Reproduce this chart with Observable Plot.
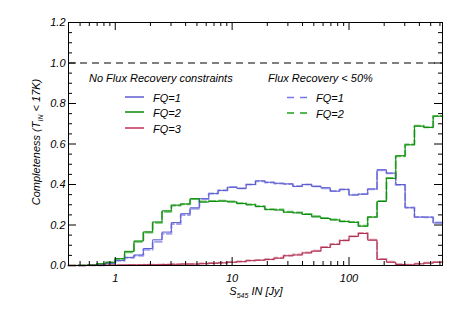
<!DOCTYPE html>
<html><head><meta charset="utf-8">
<script src="https://cdn.jsdelivr.net/npm/d3@7"></script>
<script src="https://cdn.jsdelivr.net/npm/@observablehq/plot@0.6"></script>
<style>
body{margin:0;background:#fff}
svg{font-family:"Liberation Sans",Arial,sans-serif;font-style:italic}
</style>
</head><body><div id="chart"></div>
<script>
// log10 bin grid: 40 bins of 0.08 dex starting at log10 S = -0.4
const binStartLog = -0.4;
const binWidthLog = 0.08;

// No flux recovery constraints
const fq1 = [0,0,0.002,0.004,0.011,0.025,0.040,0.052,0.084,0.127,
             0.165,0.212,0.256,0.285,0.330,0.355,0.370,0.386,0.380,0.400,
             0.418,0.411,0.406,0.403,0.390,0.400,0.390,0.384,0.367,0.376,
             0.348,0.352,0.378,0.473,0.456,0.400,0.285,0.239,0.239,0.210];
const fq2 = [0,0.001,0.003,0.008,0.016,0.034,0.070,0.121,0.166,0.215,
             0.270,0.298,0.304,0.330,0.313,0.316,0.318,0.314,0.306,0.300,
             0.291,0.276,0.274,0.263,0.260,0.252,0.240,0.232,0.225,0.217,
             0.213,0.194,0.239,0.316,0.430,0.542,0.596,0.688,0.682,0.737];
const fq3 = [0,0,0.001,0.001,0.002,0.002,0.003,0.003,0.004,0.004,
             0.005,0.006,0.007,0.007,0.009,0.011,0.013,0.016,0.019,0.024,
             0.026,0.030,0.036,0.048,0.052,0.062,0.071,0.089,0.104,0.123,
             0.143,0.158,0.125,0.030,0.016,0.005,0.003,0.008,0.012,0.016];
// Flux recovery < 50%
const fq1Rec = [0,0,0.002,0.004,0.010,0.024,0.038,0.048,0.078,0.117,
                0.157,0.205,0.250,0.280,0.328,0.356,0.372,0.388,0.382,0.400,
                0.416,0.410,0.405,0.402,0.392,0.400,0.391,0.382,0.368,0.375,
                0.350,0.353,0.376,0.470,0.455,0.398,0.287,0.240,0.238,0.212];
const fq2Rec = [0,0.001,0.003,0.008,0.015,0.031,0.066,0.117,0.163,0.211,
                0.266,0.296,0.303,0.329,0.316,0.318,0.320,0.316,0.308,0.301,
                0.292,0.278,0.276,0.265,0.262,0.254,0.243,0.234,0.227,0.219,
                0.215,0.196,0.240,0.318,0.432,0.540,0.598,0.690,0.683,0.738];
const fq3Rec = [0,0,0.001,0.001,0.002,0.002,0.003,0.003,0.004,0.004,
                0.005,0.006,0.007,0.008,0.010,0.012,0.014,0.017,0.020,0.025,
                0.027,0.031,0.038,0.050,0.054,0.064,0.073,0.091,0.106,0.125,
                0.145,0.160,0.127,0.032,0.018,0.006,0.004,0.009,0.013,0.017];

const xTicks = [1, 10, 100];
const xMinor = [0.5,0.6,0.7,0.8,0.9,2,3,4,5,6,7,8,9,20,30,40,50,60,70,80,90,200,300,400,500,600];
const yTicks = [0, 0.2, 0.4, 0.6, 0.8, 1.0, 1.2];
const yMinor = [0.05,0.1,0.15,0.25,0.3,0.35,0.45,0.5,0.55,0.65,0.7,0.75,0.85,0.9,0.95,1.05,1.1,1.15];

const seriesDefs = [
  {key:"fq1Rec", vals:fq1Rec, color:"#a4a4ec", dash:"7,3", w:2},
  {key:"fq2Rec", vals:fq2Rec, color:"#6cc06c", dash:"7,3", w:2},
  {key:"fq3Rec", vals:fq3Rec, color:"#dc98a8", dash:"7,3", w:2},
  {key:"fq1", vals:fq1, color:"#5c5cd0", dash:null, w:1},
  {key:"fq2", vals:fq2, color:"#0a8a0a", dash:null, w:1},
  {key:"fq3", vals:fq3, color:"#b02c50", dash:null, w:1}
];

function stepPoints(vals, key){
  const pts = [];
  vals.forEach((v,i)=>{
    pts.push({s:key, x:Math.pow(10, binStartLog + binWidthLog*i), y:v});
    pts.push({s:key, x:Math.pow(10, binStartLog + binWidthLog*(i+1)), y:v});
  });
  return pts;
}

const W = 463, H = 309, ml = 68, mr = 21, mt = 22, mb = 44;
const pw = W - ml - mr, ph = H - mt - mb;
const majorLen = 8, minorLen = 4;

const marks = [];
for (const d of seriesDefs) {
  marks.push(Plot.line(stepPoints(d.vals, d.key), {
    x:"x", y:"y", stroke:d.color, strokeWidth:d.w,
    strokeDasharray:d.dash || undefined
  }));
}
marks.push(
  Plot.ruleY([1], {stroke:"black", strokeWidth:1, strokeDasharray:"7,5"}),
  Plot.tickX(xTicks, {x:d=>d, insetTop:ph-majorLen, stroke:"black"}),
  Plot.tickX(xMinor, {x:d=>d, insetTop:ph-minorLen, stroke:"black"}),
  Plot.tickX(xTicks, {x:d=>d, insetBottom:ph-majorLen, stroke:"black"}),
  Plot.tickX(xMinor, {x:d=>d, insetBottom:ph-minorLen, stroke:"black"}),
  Plot.tickY(yTicks, {y:d=>d, insetRight:pw-majorLen, stroke:"black"}),
  Plot.tickY(yMinor, {y:d=>d, insetRight:pw-minorLen, stroke:"black"}),
  Plot.tickY(yTicks, {y:d=>d, insetLeft:pw-majorLen, stroke:"black"}),
  Plot.tickY(yMinor, {y:d=>d, insetLeft:pw-minorLen, stroke:"black"}),
  Plot.axisX(xTicks, {tickSize:0, tickPadding:9, tickFormat:d=>String(d), fontSize:11, label:null}),
  Plot.axisY(yTicks, {tickSize:0, tickPadding:3, tickFormat:d=>d.toFixed(1), fontSize:11, label:null}),
  Plot.frame({stroke:"black", strokeWidth:1})
);

const plot = Plot.plot({
  width:W, height:H,
  marginLeft:ml, marginRight:mr, marginTop:mt, marginBottom:mb,
  style:{background:"#fff", color:"#000", fontSize:"11px", overflow:"visible"},
  x:{type:"log", domain:[Math.pow(10,-0.4), Math.pow(10,2.8)]},
  y:{domain:[0,1.2]},
  marks
});
document.getElementById("chart").appendChild(plot);

const svg = d3.select(plot);
// y-axis label
const yl = svg.append("text")
  .attr("transform","translate(40,142) rotate(-90)")
  .attr("text-anchor","middle").attr("font-size",11).attr("fill","#000");
yl.append("tspan").text("Completeness (T");
yl.append("tspan").attr("font-size",7).attr("dy",3).text("IN");
yl.append("tspan").attr("dy",-3).text(" < 17K)");
// x-axis label
const xl = svg.append("text")
  .attr("x",256).attr("y",295)
  .attr("text-anchor","middle").attr("font-size",11).attr("fill","#000");
xl.append("tspan").text("S");
xl.append("tspan").attr("font-size",7).attr("dy",3).text("545");
xl.append("tspan").attr("dy",-3).text(" IN [Jy]");

// legends
const leg = svg.append("g").attr("font-size",11).attr("text-anchor","start");
leg.append("text").attr("x",89).attr("y",82).attr("fill","#000").text("No Flux Recovery constraints");
const leftItems = [["FQ=1","#5c5cd0",97],["FQ=2","#0a8a0a",112],["FQ=3","#c03058",128]];
for (const [t,c,y] of leftItems){
  leg.append("path").attr("d",`M125,${y}H144`).attr("fill","none").attr("stroke",c).attr("stroke-width",1.5);
  leg.append("text").attr("x",153).attr("y",y+4.5).attr("fill","#000").text(t);
}
leg.append("text").attr("x",268).attr("y",82).attr("fill","#000").text("Flux Recovery < 50%");
const rightItems = [["FQ=1","#7878ec",97.5],["FQ=2","#20a020",113]];
for (const [t,c,y] of rightItems){
  leg.append("path").attr("d",`M287,${y}H307`).attr("fill","none").attr("stroke",c).attr("stroke-width",1.5).attr("stroke-dasharray","7,6");
  leg.append("text").attr("x",316).attr("y",y+4.5).attr("fill","#000").text(t);
}
</script>
</body></html>
